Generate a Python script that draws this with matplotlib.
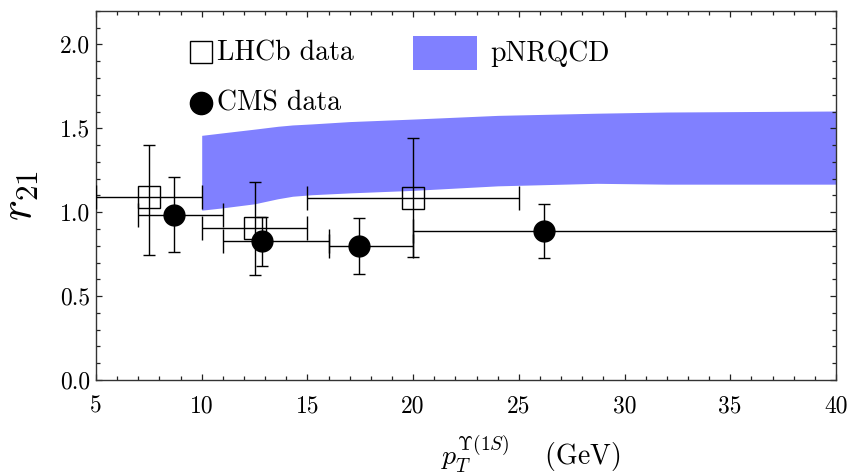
import matplotlib
matplotlib.use("Agg")
import matplotlib.pyplot as plt
from matplotlib.patches import Rectangle
from matplotlib.ticker import MultipleLocator, FormatStrFormatter
import numpy as np

plt.rcParams["font.family"] = "serif"
plt.rcParams["font.serif"] = ["cmr10"]
plt.rcParams["mathtext.fontset"] = "cm"
plt.rcParams["axes.formatter.use_mathtext"] = True

# LHCb measurements: bin centre, bin edges, ratio and its uncertainty band
lhcb_pt = [7.5, 12.5, 20.0]
lhcb_lo = [5.0, 10.0, 15.0]
lhcb_hi = [10.0, 15.0, 25.0]
lhcb_r = [1.09, 0.907, 1.087]
lhcb_r_lo = [0.745, 0.625, 0.73]
lhcb_r_hi = [1.40, 1.18, 1.44]

# CMS measurements
cms_pt = [8.7, 12.87, 17.46, 26.2]
cms_lo = [7.0, 11.0, 16.0, 20.0]
cms_hi = [11.0, 16.0, 20.0, 50.0]
cms_r = [0.986, 0.827, 0.798, 0.887]
cms_r_lo = [0.762, 0.68, 0.63, 0.724]
cms_r_hi = [1.21, 0.972, 0.966, 1.05]

# pNRQCD prediction band
band_pt = [10.0, 11.0, 12.5, 13.6, 14.3, 15.2, 17.0, 20.0, 24.0, 28.7, 32.0, 40.0]
band_hi = [1.458, 1.473, 1.495, 1.512, 1.52, 1.526, 1.54, 1.555, 1.577, 1.59, 1.597, 1.603]
band_lo = [1.012, 1.026, 1.05, 1.08, 1.095, 1.104, 1.115, 1.13, 1.157, 1.172, 1.167, 1.167]

fig = plt.figure(figsize=(8.48, 4.72), dpi=100)
ax = fig.add_axes([0.1132, 0.195, 0.8726, 0.782])

ax.fill_between(band_pt, band_lo, band_hi, color="#8080ff", lw=0, zorder=1)


def draw_points(pt, lo, hi, r, rlo, rhi, marker, face, size):
    pt = np.array(pt)
    r = np.array(r)
    xerr = [pt - np.array(lo), np.array(hi) - pt]
    yerr = [r - np.array(rlo), np.array(rhi) - r]
    ax.errorbar(pt, r, xerr=xerr, fmt="none", ecolor="black", elinewidth=1.0,
                capsize=8.6, capthick=1.0, zorder=3)
    ax.errorbar(pt, r, yerr=yerr, fmt="none", ecolor="black", elinewidth=1.0,
                capsize=4.0, capthick=1.0, zorder=3)
    ax.plot(pt, r, linestyle="none", marker=marker, markersize=size,
            markerfacecolor=face, markeredgecolor="black",
            markeredgewidth=1.0, zorder=4)


draw_points(lhcb_pt, lhcb_lo, lhcb_hi, lhcb_r, lhcb_r_lo, lhcb_r_hi,
            "s", "none", 15.5)
draw_points(cms_pt, cms_lo, cms_hi, cms_r, cms_r_lo, cms_r_hi,
            "o", "black", 15)

ax.set_xlim(5, 40)
ax.set_ylim(0, 2.2)
ax.xaxis.set_major_locator(MultipleLocator(5))
ax.xaxis.set_minor_locator(MultipleLocator(1))
ax.yaxis.set_major_locator(MultipleLocator(0.5))
ax.yaxis.set_minor_locator(MultipleLocator(0.1))
ax.yaxis.set_major_formatter(FormatStrFormatter("%.1f"))
ax.xaxis.set_major_formatter(FormatStrFormatter("%d"))
ax.tick_params(which="both", direction="in", top=True, right=True,
               color="#222222", width=0.9)
ax.tick_params(which="major", length=4.3, labelsize=17)
ax.tick_params(which="minor", length=2.6)
ax.tick_params(axis="x", which="major", pad=11)
ax.tick_params(axis="y", which="major", pad=4)
for s in ax.spines.values():
    s.set_linewidth(1.0)
    s.set_color("#333333")

ax.set_ylabel(r"$r_{21}$", fontsize=32, labelpad=14)
ax.set_xlabel(r"$p_T^{\Upsilon(1S)}\quad$ (GeV)", fontsize=20)
ax.xaxis.set_label_coords(0.588, -0.145)

# Legend drawn by hand
ax.plot([0.1423], [0.888], transform=ax.transAxes, marker="s", markersize=16,
        markerfacecolor="none", markeredgecolor="black", markeredgewidth=1.0,
        linestyle="none", clip_on=False)
ax.text(0.164, 0.8665, "LHCb data", transform=ax.transAxes, fontsize=20,
        va="baseline", ha="left")
ax.plot([0.1423], [0.751], transform=ax.transAxes, marker="o", markersize=16,
        markerfacecolor="black", markeredgecolor="black", linestyle="none",
        clip_on=False)
ax.text(0.164, 0.731, "CMS data", transform=ax.transAxes, fontsize=20,
        va="baseline", ha="left")
ax.add_patch(Rectangle((0.428, 0.841), 0.0865, 0.090, transform=ax.transAxes,
                       facecolor="#8080ff", edgecolor="none"))
ax.text(0.533, 0.864, "pNRQCD", transform=ax.transAxes, fontsize=20,
        va="baseline", ha="left")

fig.savefig("out.png", dpi=100)
